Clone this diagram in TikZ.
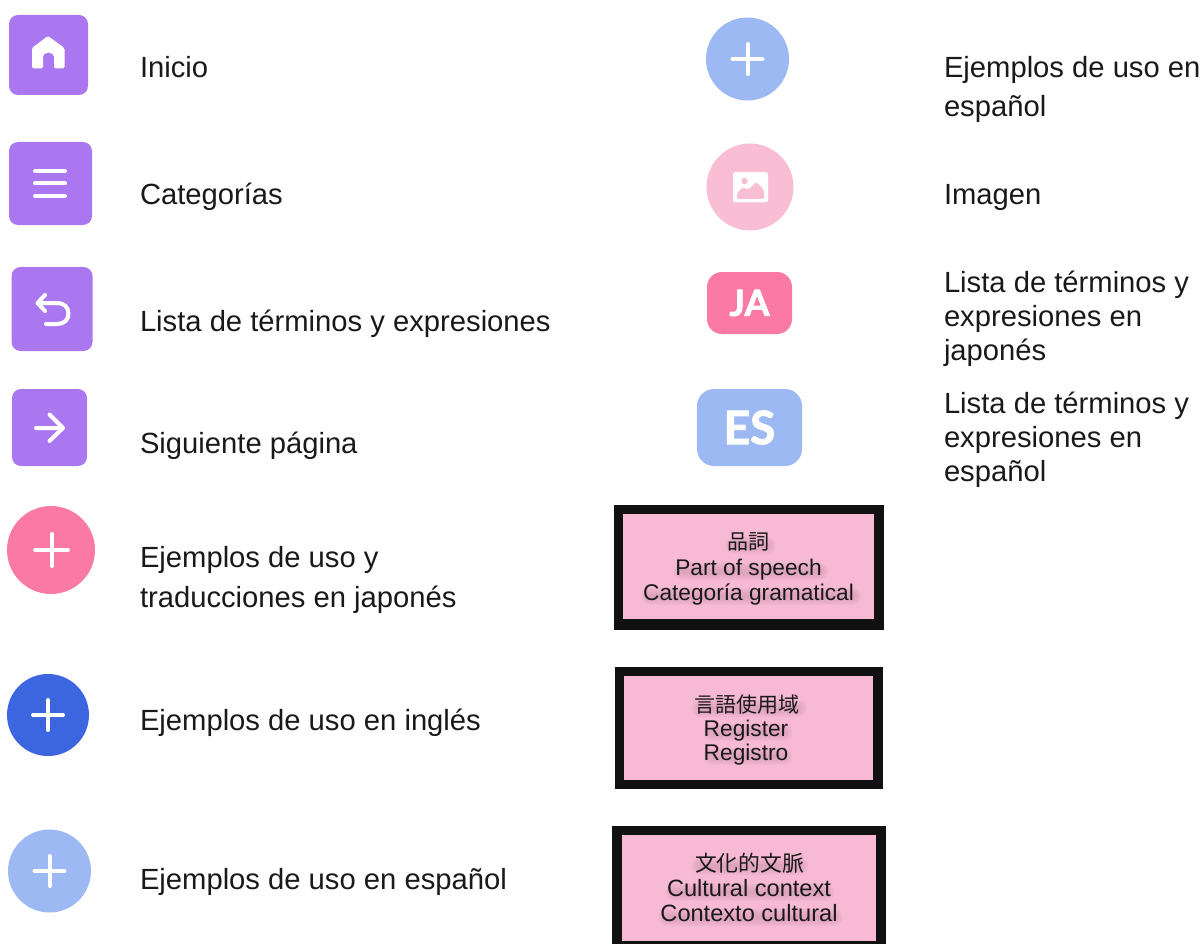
\documentclass[tikz,border=0pt]{standalone}
\usepackage{fontspec}
\setmainfont{Liberation Sans}
\newfontfamily\cjkfont{Noto Sans CJK JP}
\newfontfamily\badgefont[BoldFeatures={FakeBold=2}]{Lato}
\definecolor{purp}{HTML}{AB77F1}
\definecolor{rosa}{HTML}{FA7AA5}
\definecolor{rosal}{HTML}{F9BED4}
\definecolor{azul}{HTML}{3B66E0}
\definecolor{azull}{HTML}{9DB9F3}
\definecolor{boxpink}{HTML}{F7B9D3}
\definecolor{boxedge}{HTML}{111111}
\definecolor{smudge}{HTML}{6A3A55}
\tikzset{
  tile/.style={fill=purp,rounded corners=9pt,inner sep=0pt,outer sep=0pt},
  disc/.style={circle,inner sep=0pt,outer sep=0pt},
  badge/.style={rounded corners=15pt,inner sep=0pt,outer sep=0pt,text=white},
  label/.style={anchor=base west,inner sep=0pt,outer sep=0pt,yshift=-0.5pt,font=\fontsize{29.2}{34}\selectfont,text=black!90},
  glyph/.style={draw=white,line width=4pt,line cap=round,line join=round},
  outerbox/.style={fill=boxedge,inner sep=0pt,outer sep=0pt},
  innerbox/.style={fill=boxpink,inner sep=0pt,outer sep=0pt},
  boxline/.style={anchor=base,inner sep=0pt,outer sep=0pt,font=\fontsize{22.7}{26}\selectfont,text=black!90},
  boxwide/.style={boxline,font=\fontsize{23.6}{26}\selectfont},
  boxcjk/.style={anchor=base,inner sep=0pt,outer sep=0pt,font=\cjkfont\fontsize{21}{25}\selectfont,text=black!90},
  boxcjkwide/.style={boxcjk,font=\cjkfont\fontsize{21.8}{25}\selectfont},
  soft/.style={draw=smudge,line cap=round,draw opacity=0.045}
}
\newcommand{\softbar}[3]{%
  \foreach \w in {5,9,13,17}{\draw[soft,line width=\w pt] (#1,#2) -- (#3,#2);}}
\begin{document}
\begin{tikzpicture}[x=1pt,y=-1pt]
\useasboundingbox (0,0) rectangle (1204,944);
% left column tiles
\node[tile,minimum width=79pt,minimum height=80pt] (home) at (48.5,55) {};
\fill[white,rounded corners=1.5pt] (32,68.5) -- (32,48) -- (48,36) -- (64.5,48) -- (64.5,68.5) -- (54,68.5) -- (54,58) arc (0:-180:5.5) -- (43,68.5) -- cycle;
\node[tile,minimum width=83pt,minimum height=83pt] (menu) at (50.5,183.5) {};
\draw[glyph] (35,171) -- (65,171) (35,183.5) -- (65,183.5) (35,196) -- (65,196);
\node[tile,minimum width=81pt,minimum height=84pt] (back) at (52,309) {};
\draw[glyph] (45,295) -- (37.5,303) -- (45,311) (37.5,303) -- (57,303) .. controls (64,303) and (68.5,307) .. (68.5,313.5) .. controls (68.5,320) and (64,324) .. (57,324) -- (46,324);
\node[tile,minimum width=75pt,minimum height=77pt] (next) at (49.5,427.5) {};
\draw[glyph] (36,428) -- (62.5,428) (49.5,414.5) -- (63,428) -- (49.5,441);
% left column discs
\node[disc,fill=rosa,minimum size=88pt] (discja) at (51,550) {};
\draw[glyph] (35,550) -- (68,550) (51.5,534) -- (51.5,566);
\node[disc,fill=azul,minimum size=82pt] (discen) at (48,715) {};
\draw[glyph] (33,715) -- (63,715) (48,700) -- (48,730);
\node[disc,fill=azull,minimum size=83pt] (disces) at (49.5,871) {};
\draw[glyph] (34.5,871) -- (64.5,871) (49.5,856) -- (49.5,886);
% right column icons
\node[disc,fill=azull,minimum size=83pt] (plus) at (747.5,59) {};
\draw[glyph] (732.5,59) -- (762.5,59) (747.5,44) -- (747.5,74);
\node[disc,fill=rosal,minimum size=87pt] (image) at (750,187) {};
\fill[white,rounded corners=2.5pt] (733,172) rectangle (768,202.5);
\fill[rosal] (744.5,181) circle (3.2);
\fill[rosal,rounded corners=2pt] (737,199) -- (737,193) -- (743,187) -- (748,190) -- (756.5,182) -- (764,190) -- (764,199) -- cycle;
\node[badge,fill=rosa,minimum width=85pt,minimum height=62pt,font=\badgefont\bfseries\fontsize{36}{40}\selectfont] (ja) at (749.5,303) {\raisebox{-2pt}{JA}};
\node[badge,fill=azull,rounded corners=17pt,minimum width=105pt,minimum height=77pt,font=\badgefont\bfseries\fontsize{46}{50}\selectfont] (es) at (749.5,427.5) {\raisebox{-2.5pt}{ES}};
% left labels
\node[label] (t1) at (140,77) {Inicio};
\node[label] (t2) at (140,204) {Categorías};
\node[label] (t3) at (140,331) {Lista de términos y expresiones};
\node[label] (t4) at (140,453) {Siguiente página};
\node[label] (t5a) at (140,567) {Ejemplos de uso y};
\node[label] (t5b) at (140,607) {traducciones en japonés};
\node[label] (t6) at (140,730) {Ejemplos de uso en inglés};
\node[label] (t7) at (140,889) {Ejemplos de uso en español};
% right labels
\node[label] (r1a) at (944,77) {Ejemplos de uso en};
\node[label] (r1b) at (944,116) {español};
\node[label] (r2) at (944,204) {Imagen};
\node[label] (r3a) at (944,292) {Lista de términos y};
\node[label] (r3b) at (944,326) {expresiones en};
\node[label] (r3c) at (944,360) {japonés};
\node[label] (r4a) at (944,413) {Lista de términos y};
\node[label] (r4b) at (944,447) {expresiones en};
\node[label] (r4c) at (944,481) {español};
% boxes
\node[outerbox,minimum width=270.5pt,minimum height=125pt] (b1o) at (748.75,567.5) {};
\node[innerbox,minimum width=251pt,minimum height=105pt] (b1i) at (748.5,566.5) {};
\softbar{734}{545}{767}
\softbar{682}{571}{820}
\softbar{650}{596}{853}
\node[boxcjk] (b1a) at (748,549) {品詞};
\node[boxline] (b1b) at (748.5,575) {Part of speech};
\node[boxline] (b1c) at (748.5,600) {Categoría gramatical};
\node[outerbox,minimum width=268pt,minimum height=122pt] (b2o) at (749,728) {};
\node[innerbox,minimum width=249pt,minimum height=104pt] (b2i) at (748.5,728) {};
\softbar{700}{708}{798}
\softbar{712}{732}{784}
\softbar{712}{756}{784}
\node[boxcjk] (b2a) at (747,712) {言語使用域};
\node[boxline] (b2b) at (746,736) {Register};
\node[boxline] (b2c) at (746,760) {Registro};
\node[outerbox,minimum width=274pt,minimum height=118pt] (b3o) at (749,885) {};
\node[innerbox,minimum width=254pt,minimum height=106pt] (b3i) at (749,888) {};
\softbar{700}{866}{800}
\softbar{674}{892}{826}
\softbar{667}{917}{834}
\node[boxcjkwide] (b3a) at (749.5,871) {文化的文脈};
\node[boxwide] (b3b) at (749,896) {Cultural context};
\node[boxwide] (b3c) at (749,921) {Contexto cultural};
\end{tikzpicture}
\end{document}
